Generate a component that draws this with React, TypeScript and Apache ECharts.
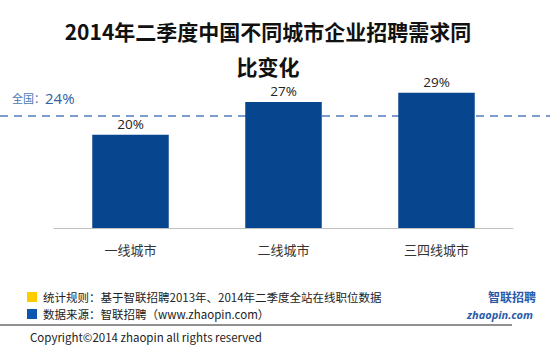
import React, { useEffect, useRef } from "react";
import * as echarts from "echarts";

const categories = ["一线城市", "二线城市", "三四线城市"];
const values = [20, 27, 29];
const nationalValue = 24;
const titleLines = ["2014年二季度中国不同城市企业招聘需求同", "比变化"];
const notes = [
  "统计规则：基于智联招聘2013年、2014年二季度全站在线职位数据",
  "数据来源：智联招聘（www.zhaopin.com）",
];
const copyright = "Copyright©2014 zhaopin all rights reserved";

export default function App() {
  const ref = useRef<HTMLDivElement>(null);
  useEffect(() => {
    if (!ref.current) return;
    const chart = echarts.init(ref.current, null, { renderer: "svg" });
    const font = "'Noto Sans CJK SC', 'Open Sans', sans-serif";
    chart.setOption({
      animation: false,
      backgroundColor: "#ffffff",
      grid: { left: 54, right: 37, top: 88, bottom: 123 },
      xAxis: {
        type: "category",
        data: categories,
        axisLine: { lineStyle: { color: "#bfbfbf", width: 1 } },
        axisTick: { show: false },
        axisLabel: { color: "#333", fontSize: 13, margin: 15, fontFamily: font },
      },
      yAxis: {
        type: "value",
        min: 0,
        max: 30,
        show: false,
        splitLine: { show: false },
      },
      series: [
        {
          type: "bar",
          data: values,
          barWidth: "50%",
          itemStyle: { color: "#07468f" },
          label: {
            show: true,
            position: "top",
            formatter: "{c}%",
            color: "#222",
            fontSize: 13.5,
            distance: 4,
            fontFamily: "'Open Sans', sans-serif",
          },
        },
      ],
    });
    const yPix = chart.convertToPixel({ yAxisIndex: 0 }, nationalValue) as number;
    chart.setOption({
      graphic: [
        {
          type: "line",
          z: 0,
          shape: { x1: 0, y1: yPix, x2: 550, y2: yPix },
          style: { stroke: "#7a9ccf", lineWidth: 2, lineDash: [8, 6] },
        },
        {
          type: "text",
          x: 12,
          y: yPix - 26,
          style: {
            text: "{a|全国：}{b|" + nationalValue + "%}",
            rich: {
              a: { fontSize: 11, fill: "#4a78b0", fontFamily: font },
              b: { fontSize: 15, fill: "#2f62a3", fontFamily: "'Open Sans', sans-serif" },
            },
          },
        },
        {
          type: "text",
          x: 268,
          y: 31,
          style: {
            text: titleLines[0],
            fontSize: 21,
            fontWeight: "bold",
            fill: "#111",
            fontFamily: font,
            align: "center",
            verticalAlign: "middle",
          },
        },
        {
          type: "text",
          x: 268,
          y: 66,
          style: {
            text: titleLines[1],
            fontSize: 21,
            fontWeight: "bold",
            fill: "#111",
            fontFamily: font,
            align: "center",
            verticalAlign: "middle",
          },
        },
        { type: "rect", shape: { x: 27, y: 292, width: 10, height: 10 }, style: { fill: "#ffcc00" } },
        { type: "rect", shape: { x: 27, y: 309, width: 10, height: 10 }, style: { fill: "#0d56b0" } },
        {
          type: "text",
          x: 43,
          y: 297,
          style: { text: notes[0], fontSize: 11.5, fill: "#222", fontFamily: font, verticalAlign: "middle" },
        },
        {
          type: "text",
          x: 43,
          y: 314,
          style: { text: notes[1], fontSize: 11.5, fill: "#222", fontFamily: font, verticalAlign: "middle" },
        },
        {
          type: "line",
          shape: { x1: 0, y1: 325, x2: 512, y2: 325 },
          style: { stroke: "#222", lineWidth: 1 },
        },
        {
          type: "text",
          x: 30,
          y: 337,
          style: { text: copyright, fontSize: 11.5, fill: "#222", fontFamily: font, verticalAlign: "middle" },
        },
        {
          type: "text",
          x: 512,
          y: 296,
          style: {
            text: "智联招聘",
            fontSize: 12,
            fontWeight: "bold",
            fill: "#2a5ba8",
            fontFamily: font,
            align: "center",
            verticalAlign: "middle",
          },
        },
        {
          type: "text",
          x: 500,
          y: 314,
          style: {
            text: "zhaopin.com",
            fontSize: 11,
            fontWeight: "bold",
            fontStyle: "italic",
            fill: "#2a5ba8",
            fontFamily: "'Open Sans', sans-serif",
            align: "center",
            verticalAlign: "middle",
          },
        },
      ],
    });
    return () => chart.dispose();
  }, []);
  return <div ref={ref} style={{ width: 550, height: 351, position: "absolute", left: 0, top: 0 }} />;
}
